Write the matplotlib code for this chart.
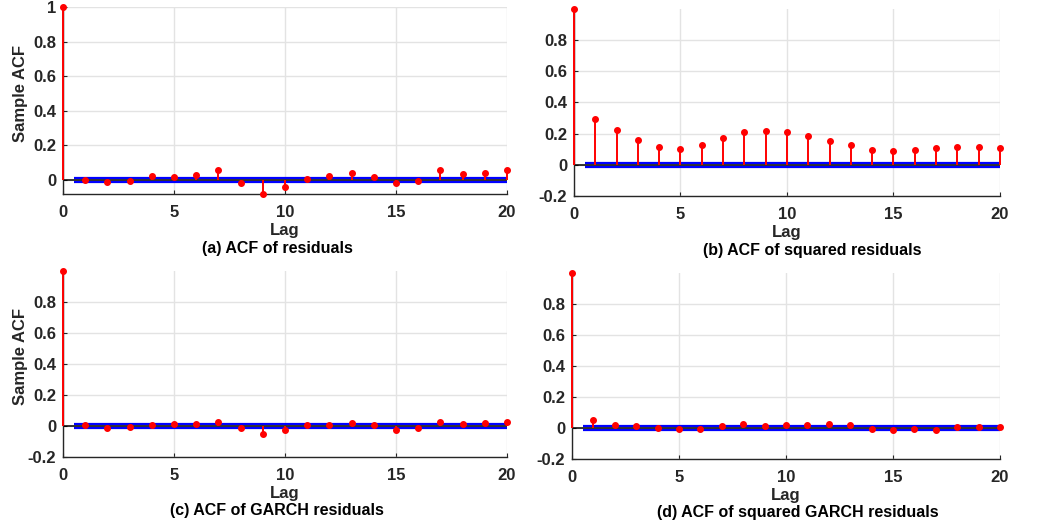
import numpy as np
from matplotlib import pyplot as plt

plt.rcParams['font.family'] = ['Liberation Sans', 'DejaVu Sans']
plt.rcParams['font.weight'] = 'bold'

lags = np.arange(0, 21)

acf_resid = [1.0, -0.002, -0.015, -0.010, 0.020, 0.015, 0.027, 0.054, -0.019, -0.083, -0.040,
             0.006, 0.021, 0.039, 0.015, -0.021, -0.006, 0.056, 0.035, 0.039, 0.056]
acf_sq_resid = [1.0, 0.294, 0.220, 0.158, 0.115, 0.102, 0.124, 0.173, 0.209, 0.215, 0.209,
                0.186, 0.154, 0.126, 0.096, 0.090, 0.094, 0.105, 0.115, 0.117, 0.107]
acf_garch = [1.0, 0.004, -0.011, -0.009, 0.009, 0.011, 0.011, 0.026, -0.011, -0.050, -0.028,
             0.004, 0.004, 0.019, 0.004, -0.024, -0.011, 0.026, 0.011, 0.017, 0.024]
acf_sq_garch = [1.0, 0.049, 0.017, 0.011, 0.002, -0.006, -0.009, 0.015, 0.024, 0.011, 0.021,
                0.019, 0.024, 0.017, -0.004, -0.011, -0.004, -0.011, 0.004, 0.006, 0.004]

bound = 0.011  # confidence bound (+/-)
titles = ['(a) ACF of residuals', '(b) ACF of squared residuals',
          '(c) ACF of GARCH residuals', '(d) ACF of squared GARCH residuals']

txt = '#262626'
fig = plt.figure(figsize=(10.4, 5.27), dpi=100)

# [left, bottom, width, height], ylim, yticks, title x, ylabel?
panels = [
    (acf_resid, [0.0606, 0.6319, 0.4269, 0.3548], (-0.083, 1.0), np.arange(0, 1.01, 0.2), 0.484, True),
    (acf_sq_resid, [0.5519, 0.6281, 0.4096, 0.3553], (-0.2, 1.0), np.arange(-0.2, 0.81, 0.2), 0.559, False),
    (acf_garch, [0.0606, 0.1328, 0.4269, 0.3530], (-0.2, 1.0), np.arange(-0.2, 0.81, 0.2), 0.482, True),
    (acf_sq_garch, [0.5500, 0.1290, 0.4115, 0.3530], (-0.2, 1.0), np.arange(-0.2, 0.81, 0.2), 0.528, False),
]

for i, (vals, pos, ylim, yt, tx, ylab) in enumerate(panels):
    ax = fig.add_axes(pos)
    ax.grid(True, color='#e3e3e3', linewidth=1, zorder=0)
    ax.set_axisbelow(True)
    ax.hlines([bound, -bound], 0.5, 20, colors='#0000ff', linewidth=1.6, zorder=2)
    ax.axhline(0, color='black', linewidth=1.1, zorder=2.2)
    ml, sl, bl = ax.stem(lags, vals, linefmt='r-', markerfmt='ro', basefmt=' ')
    ml.set_markersize(4)
    ml.set_zorder(4)
    ml.set_clip_on(False)
    sl.set_linewidth(1.4)
    sl.set_zorder(3)
    sl.set_clip_on(False)
    ax.set_xlim(0, 20)
    ax.set_ylim(*ylim)
    ax.set_xticks([0, 5, 10, 15, 20])
    ax.set_yticks(yt)
    ax.set_yticklabels(['%g' % round(v, 1) for v in yt])
    for s in ['top', 'right']:
        ax.spines[s].set_visible(False)
    for s in ['left', 'bottom']:
        ax.spines[s].set_color(txt)
        ax.spines[s].set_linewidth(1)
    ax.tick_params(direction='in', length=3, colors=txt, labelsize=12, pad=5)
    ax.tick_params(axis='x', pad=8)
    ax.set_xlabel('Lag', fontsize=12, color=txt, fontweight='bold', labelpad=2)
    if ylab:
        ax.set_ylabel('Sample ACF', fontsize=12, color=txt, fontweight='bold')
        ax.yaxis.set_label_coords(-0.078, 0.54)
    ax.text(tx, -0.29, titles[i], transform=ax.transAxes, ha='center', va='center',
            fontsize=11.5, color='black', fontweight='bold')

fig.savefig('out.png', dpi=100)
